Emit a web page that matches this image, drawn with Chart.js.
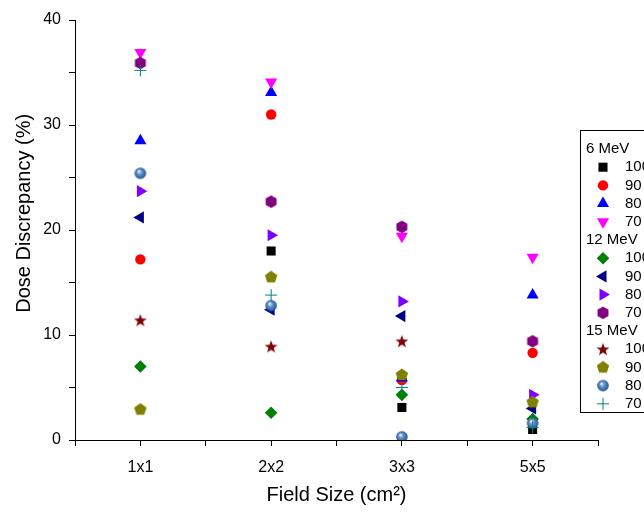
<!DOCTYPE html>
<html>
<head>
<meta charset="utf-8">
<script src="https://cdn.jsdelivr.net/npm/chart.js@4/dist/chart.umd.min.js"></script>
<style>
  body { margin: 0; background: #fff; }
  canvas { display: block; }
</style>
</head>
<body>
<canvas id="graph1" width="644" height="512"></canvas>
<script>
// field sizes on the x axis
const categories = ['1x1', '2x2', '3x3', '5x5'];
const energies = ['6 MeV', '12 MeV', '15 MeV'];
const doseLabels = ['100', '90', '80', '70'];

// dose discrepancy (%) per field size
const mev6_100 = [null, 18.0, 3.1, 1.0];
const mev6_90 = [17.2, 31.0, 5.7, 8.3];
const mev6_80 = [28.5, 33.1, 5.9, 13.8];
const mev6_70 = [36.9, 34.1, 19.4, 17.4];
const mev12_100 = [7.0, 2.6, 4.3, 2.0];
const mev12_90 = [21.2, 12.4, 11.8, 3.0];
const mev12_80 = [23.7, 19.5, 13.2, 4.3];
const mev12_70 = [35.9, 22.7, 20.3, 9.4];
const mev15_100 = [11.4, 8.9, 9.4, null];
const mev15_90 = [2.9, 15.5, 6.2, 3.6];
const mev15_80 = [25.4, 12.8, 0.3, 1.6];
const mev15_70 = [35.2, 13.8, 5.0, 1.2];

const yTicks = [0, 10, 20, 30, 40];

function makeMarker(draw) {
  var c = document.createElement('canvas');
  c.width = 14; c.height = 14;
  var g = c.getContext('2d');
  draw(g);
  return c;
}
function polygon(g, n, r, start, color) {
  g.beginPath();
  for (var i = 0; i < n; i++) {
    var a = start + i * 2 * Math.PI / n;
    g.lineTo(7 + r * Math.cos(a), 7 + r * Math.sin(a));
  }
  g.closePath();
  g.fillStyle = color;
  g.fill();
}
var hexagon = makeMarker(function(g) { polygon(g, 6, 6.3, -Math.PI / 2, '#800080'); });
var pentagon = makeMarker(function(g) { polygon(g, 5, 6.5, -Math.PI / 2, '#808000'); });
var star = makeMarker(function(g) {
  g.beginPath();
  for (var i = 0; i < 10; i++) {
    var r = i % 2 === 0 ? 6.8 : 2.8;
    var a = -Math.PI / 2 + i * Math.PI / 5;
    g.lineTo(7 + r * Math.cos(a), 7.5 + r * Math.sin(a));
  }
  g.closePath();
  g.fillStyle = '#800000';
  g.fill();
});
var sphere = makeMarker(function(g) {
  var grad = g.createRadialGradient(5.5, 5, 0.5, 7, 7, 6);
  grad.addColorStop(0, '#e8f2ff');
  grad.addColorStop(0.3, '#6f9bd0');
  grad.addColorStop(1, '#1d4f8c');
  g.beginPath();
  g.arc(7, 7, 5.8, 0, Math.PI * 2);
  g.fillStyle = grad;
  g.fill();
});

const series = [
  { values: mev6_100, color: '#000000', style: 'rect', radius: 6.4, rotation: 0 },
  { values: mev6_90, color: '#FF0000', style: 'circle', radius: 5.2, rotation: 0 },
  { values: mev6_80, color: '#0000FF', style: 'triangle', radius: 7, rotation: 0 },
  { values: mev6_70, color: '#FF00FF', style: 'triangle', radius: 7, rotation: 180 },
  { values: mev12_100, color: '#008000', style: 'rectRot', radius: 6.3, rotation: 0 },
  { values: mev12_90, color: '#000080', style: 'triangle', radius: 7, rotation: 270 },
  { values: mev12_80, color: '#8000FF', style: 'triangle', radius: 7, rotation: 90 },
  { values: mev12_70, color: '#800080', style: hexagon, radius: 6, rotation: 0 },
  { values: mev15_100, color: '#800000', style: star, radius: 6, rotation: 0 },
  { values: mev15_90, color: '#808000', style: pentagon, radius: 6, rotation: 0 },
  { values: mev15_80, color: '#2e5f9e', style: sphere, radius: 6, rotation: 0 },
  { values: mev15_70, color: '#008080', style: 'cross', radius: 6, rotation: 0 }
];

const datasets = series.map(function(s, i) {
  return {
    label: energies[Math.floor(i / 4)] + ' ' + doseLabels[i % 4],
    data: s.values.map(function(v, j) { return { x: j + 1, y: v }; }),
    pointStyle: s.style,
    pointRadius: s.radius,
    pointRotation: s.rotation,
    backgroundColor: s.color,
    borderColor: s.color,
    pointBorderWidth: s.style === 'cross' ? 1 : 0,
    order: 20 - i
  };
});

// Origin style grouped legend
const groupLegend = {
  id: 'groupLegend',
  afterDraw: function(chart) {
    var ctx = chart.ctx;
    ctx.save();
    ctx.strokeStyle = '#000';
    ctx.lineWidth = 1;
    ctx.strokeRect(580.5, 130.5, 100, 282);
    ctx.font = '15px "Liberation Sans", Arial, sans-serif';
    ctx.textBaseline = 'middle';
    ctx.fillStyle = '#000';
    var y = 149;
    var step = 18.2;
    for (var gI = 0; gI < energies.length; gI++) {
      ctx.fillStyle = '#000';
      ctx.fillText(energies[gI], 586, y);
      y += step;
      for (var k = 0; k < 4; k++) {
        var s = series[gI * 4 + k];
        ctx.fillStyle = s.color;
        ctx.strokeStyle = s.color;
        ctx.lineWidth = 1;
        Chart.helpers.drawPoint(ctx, {
          pointStyle: s.style, rotation: s.rotation, radius: s.radius,
          borderWidth: s.style === 'cross' ? 1 : 0
        }, 603, y);
        ctx.fillStyle = '#000';
        ctx.fillText(doseLabels[k], 625, y);
        y += step;
      }
    }
    ctx.restore();
  }
};

document.addEventListener('DOMContentLoaded', function() {
  Chart.defaults.font.family = '"Liberation Sans", Arial, sans-serif';
  Chart.defaults.color = '#000';
  var ctx = document.querySelector('#graph1').getContext('2d');
  var chart = new Chart(ctx, {
    type: 'scatter',
    data: { datasets: datasets },
    plugins: [groupLegend],
    options: {
      responsive: false,
      animation: false,
      layout: { padding: { top: 20, right: 46, bottom: 0, left: 0 } },
      plugins: { legend: { display: false }, tooltip: { enabled: false } },
      scales: {
        x: {
          type: 'linear',
          min: 0.5,
          max: 4.5,
          afterFit: function(scale) { scale.height = 72; },
          afterBuildTicks: function(scale) {
            var t = [];
            for (var v = 0.5; v <= 4.5; v += 0.5) t.push({ value: v });
            scale.ticks = t;
          },
          ticks: {
            autoSkip: false,
            maxRotation: 0,
            padding: 12,
            font: { size: 16 },
            callback: function(v) { return Number.isInteger(v) ? categories[v - 1] : ''; }
          },
          grid: { drawOnChartArea: false, tickLength: 6, color: '#000', tickColor: '#000' },
          border: { color: '#000', width: 1 },
          title: { display: true, text: 'Field Size (cm²)', font: { size: 20 }, padding: { top: 0, bottom: 5 } }
        },
        y: {
          min: 0,
          max: 40,
          afterFit: function(scale) { scale.width = 75; },
          ticks: {
            stepSize: 5,
            padding: 8,
            font: { size: 16 },
            callback: function(v) { return yTicks.indexOf(v) >= 0 ? String(v) : ''; }
          },
          grid: { drawOnChartArea: false, tickLength: 6, color: '#000', tickColor: '#000' },
          border: { color: '#000', width: 1 },
          title: { display: true, text: '      Dose Discrepancy (%)', font: { size: 20 }, padding: { top: 12, bottom: 0 } }
        }
      }
    }
  });
});
</script>
</body>
</html>
